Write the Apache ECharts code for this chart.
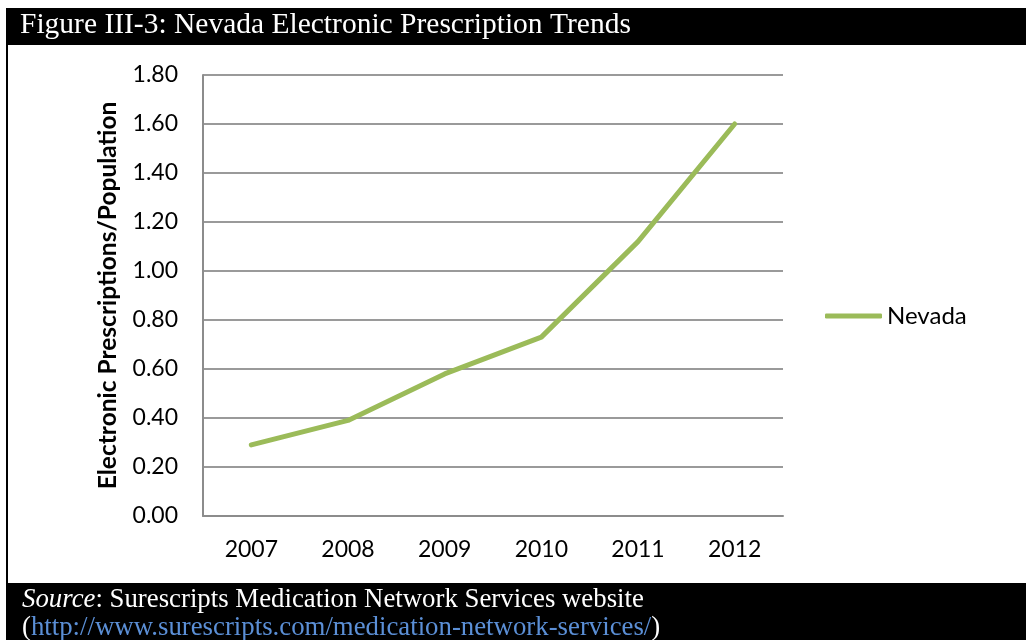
<!DOCTYPE html>
<html>
<head>
<meta charset="utf-8">
<script src="https://cdn.jsdelivr.net/npm/echarts@6/dist/echarts.min.js"></script>
<style>
html,body{margin:0;padding:0;background:#fff;}
#c{width:1026px;height:640px;}
</style>
</head>
<body>
<div id="c"></div>
<script>
const titleText = 'Figure III-3: Nevada Electronic Prescription Trends';
const years = ['2007','2008','2009','2010','2011','2012'];
const nevada = [0.29, 0.39, 0.58, 0.73, 1.12, 1.60];
const seriesName = 'Nevada';
const yAxisTitle = 'Electronic Prescriptions/Population';
const sourceLabel = 'Source';
const sourceText = ': Surescripts Medication Network Services website';
const sourceUrl = 'http://www.surescripts.com/medication-network-services/';

const chart = echarts.init(document.getElementById('c'), null, {renderer:'canvas'});
const serif = '"Liberation Serif","Times New Roman",serif';
const sans = 'Lato, "Open Sans", sans-serif';
chart.setOption({
  animation:false,
  backgroundColor:'#fff',
  graphic:[
    {type:'rect', shape:{x:6,y:8,width:1020,height:37}, style:{fill:'#000'}},
    {type:'rect', shape:{x:6,y:45,width:2,height:540}, style:{fill:'#000'}},
    {type:'rect', shape:{x:6,y:583,width:1020,height:57}, style:{fill:'#000'}},
    {type:'text', left:20, top:10, style:{text:titleText, fill:'#fff', font:'29.5px '+serif}},
    {type:'text', left:22, top:586, style:{
      text:'{i|'+sourceLabel+'}{n|'+sourceText+'}',
      rich:{i:{fill:'#fff',font:'italic 26.8px '+serif}, n:{fill:'#fff',font:'26.8px '+serif}}
    }},
    {type:'text', left:22, top:614, style:{
      text:'{n|(}{u|'+sourceUrl+'}{n|)}',
      rich:{n:{fill:'#fff',font:'26.8px '+serif}, u:{fill:'#5b8fd6',font:'26.8px '+serif}}
    }}
  ],
  legend:{
    data:[seriesName], left:820, top:299, orient:'vertical',
    icon:'roundRect', itemWidth:57, itemHeight:5, itemGap:3,
    textStyle:{fontFamily:sans, fontSize:24, color:'#000', padding:[0,0,0,0]}
  },
  grid:{left:203, right:243, top:75, bottom:124},
  xAxis:{
    type:'category', data:years, boundaryGap:true,
    axisLine:{lineStyle:{color:'#8c8c8c', width:2}},
    axisTick:{show:false},
    axisLabel:{fontFamily:sans, fontSize:23, color:'#000', margin:22}
  },
  yAxis:{
    type:'value', min:0, max:1.8, interval:0.2,
    name:yAxisTitle, nameLocation:'middle', nameGap:82, nameRotate:90,
    nameTextStyle:{fontFamily:sans, fontSize:24.5, fontWeight:'bold', color:'#000'},
    axisLine:{show:true, lineStyle:{color:'#8c8c8c', width:2}},
    axisTick:{show:false},
    splitLine:{lineStyle:{color:'#9a9a9a', width:2}},
    axisLabel:{fontFamily:sans, fontSize:23, color:'#000', margin:25, formatter:v=>v.toFixed(2)}
  },
  series:[{
    name:seriesName, type:'line', data:nevada, showSymbol:false, symbol:'none',
    lineStyle:{color:'#9bbb59', width:5, cap:'round', join:'round'},
    itemStyle:{color:'#9bbb59'}
  }]
});
</script>
</body>
</html>
